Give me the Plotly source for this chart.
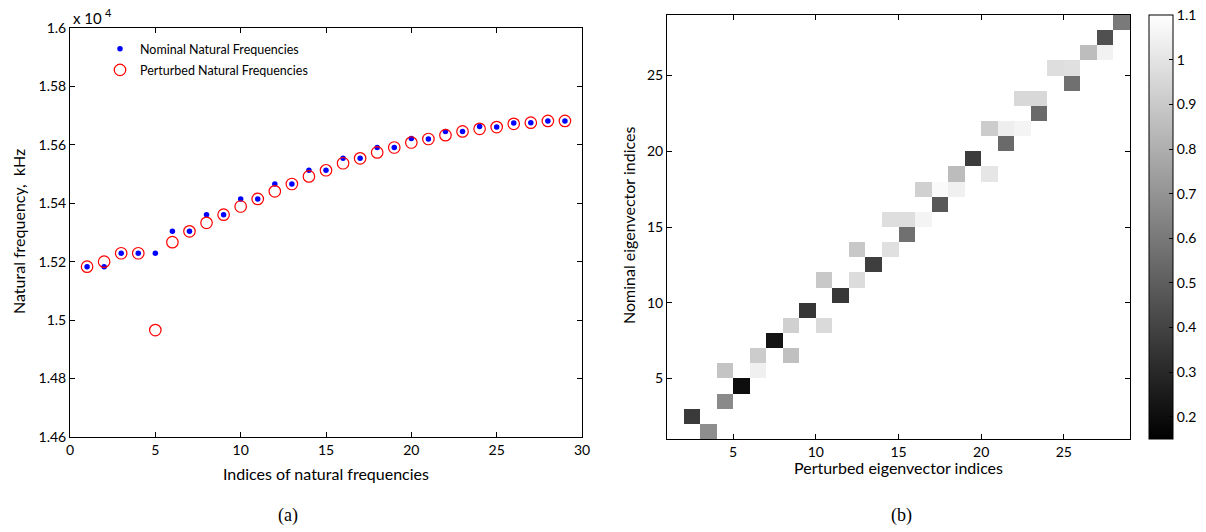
import plotly.graph_objects as go

# ---------------- data: panel (a) ----------------
mode_index = list(range(1, 30))
nominal_freq = [15183, 15183, 15229, 15229, 15229, 15304, 15304, 15361, 15361, 15415,
                15415, 15466, 15466, 15513, 15513, 15554, 15554, 15591, 15591, 15622,
                15620, 15646, 15646, 15663, 15661, 15675, 15676, 15682, 15682]
perturbed_freq = [15183, 15200, 15229, 15229, 14966, 15267, 15304, 15333, 15361, 15389,
                  15415, 15441, 15466, 15492, 15513, 15537, 15554, 15574, 15591, 15608,
                  15620, 15633, 15646, 15655, 15661, 15672, 15676, 15682, 15682]
freq_ticks = [14600, 14800, 15000, 15200, 15400, 15600, 15800, 16000]
freq_tick_labels = ["1.46", "1.48", "1.5", "1.52", "1.54", "1.56", "1.58", "1.6"]
index_ticks = [0, 5, 10, 15, 20, 25, 30]

# ---------------- data: panel (b) ----------------
perturbed_idx = [2, 3, 4, 5, 4, 6, 6, 7, 8, 8, 9, 10, 10, 11, 12, 12, 13, 14, 14, 15, 16,
                 15, 16, 17, 18, 17, 18, 19, 20, 20, 21, 22, 21, 22, 23, 23, 24, 25, 25,
                 26, 27, 27, 28]
nominal_idx = [2, 1, 3, 4, 5, 5, 6, 7, 6, 8, 9, 8, 11, 10, 11, 13, 12, 13, 15, 15, 15,
               14, 17, 17, 17, 16, 18, 19, 18, 21, 21, 21, 20, 23, 23, 22, 25, 25, 24,
               26, 26, 27, 28]
mac_value = [0.366, 0.679, 0.664, 0.202, 0.880, 1.044, 0.910, 0.225, 0.865, 0.925, 0.351,
             0.962, 0.895, 0.359, 0.970, 0.895, 0.381, 0.984, 0.977, 0.977, 1.059,
             0.567, 0.925, 1.081, 1.044, 0.478, 0.850, 0.374, 1.007, 0.910, 1.037, 1.059,
             0.545, 0.955, 0.955, 0.545, 0.977, 0.984, 0.567, 0.854, 1.052, 0.448, 0.604]
eig_ticks = [5, 10, 15, 20, 25]
cbar_ticks = [0.2, 0.3, 0.4, 0.5, 0.6, 0.7, 0.8, 0.9, 1.0, 1.1]
cbar_tick_labels = ["0.2", "0.3", "0.4", "0.5", "0.6", "0.7", "0.8", "0.9", "1", "1.1"]

n_cells = 28
cell_centres = [i + 0.5 for i in range(1, n_cells + 1)]
z = [[None] * n_cells for _ in range(n_cells)]
for px, ny, v in zip(perturbed_idx, nominal_idx, mac_value):
    z[ny - 1][px - 1] = v

# the page body margin is removed by a small post script, so the figure fills the view
W, H = 1206, 532
FONT = "Lato"


def fx(p):
    return p / W


def fy(p):
    return (H - p) / H


fig = go.Figure()

fig.add_trace(go.Scatter(
    x=mode_index, y=nominal_freq, mode="markers", name="Nominal Natural Frequencies",
    legendgroup="a", marker=dict(color="#0000ff", size=5.5, symbol="circle"),
    xaxis="x", yaxis="y"))
fig.add_trace(go.Scatter(
    x=mode_index, y=perturbed_freq, mode="markers", name="Perturbed Natural Frequencies",
    legendgroup="b",
    marker=dict(color="#ff0000", size=11.5, symbol="circle-open",
                line=dict(color="#ff0000", width=1.2)),
    xaxis="x", yaxis="y"))

fig.add_trace(go.Heatmap(
    x=cell_centres, y=cell_centres, z=z, zmin=0.15, zmax=1.1005,
    colorscale=[[0, "#000000"], [1, "#ffffff"]], hoverongaps=False,
    xaxis="x2", yaxis="y2", showlegend=False,
    colorbar=dict(x=fx(1149), xanchor="left", y=fy(439), yanchor="bottom",
                  len=(439 - 15) / H, lenmode="fraction", thickness=24,
                  thicknessmode="pixels", xpad=0, ypad=0,
                  outlinecolor="#000000", outlinewidth=1,
                  tickvals=cbar_ticks, ticktext=cbar_tick_labels, ticks="inside",
                  ticklen=4, tickcolor="#000000", ticklabeloverflow="allow",
                  tickfont=dict(family=FONT, size=14, color="#000000"))))

axis_common = dict(showline=True, linecolor="#000000", linewidth=1, mirror="ticks",
                   ticks="inside", ticklen=5, tickcolor="#000000", showgrid=False,
                   zeroline=False, automargin=False,
                   tickfont=dict(family=FONT, size=14, color="#000000"))

fig.update_layout(
    width=W, height=H, margin=dict(l=0, r=0, t=0, b=0, pad=0, autoexpand=False),
    paper_bgcolor="#ffffff", plot_bgcolor="#ffffff",
    font=dict(family=FONT, size=14, color="#000000"),
    xaxis=dict(domain=[fx(70), fx(582)], range=[0, 30], tickvals=index_ticks,
               anchor="y", **axis_common),
    yaxis=dict(domain=[fy(437), fy(28)], range=[14600, 16000], tickvals=freq_ticks,
               ticktext=freq_tick_labels, anchor="x", **axis_common),
    xaxis2=dict(domain=[fx(667), fx(1130)], range=[1, 29], tickvals=eig_ticks,
                anchor="y2", **axis_common),
    yaxis2=dict(domain=[fy(439), fy(15)], range=[1, 29], tickvals=eig_ticks,
                anchor="x2", **axis_common),
    legend=dict(x=fx(100), y=fy(34), xanchor="left", yanchor="top",
                bgcolor="rgba(0,0,0,0)", font=dict(family=FONT, size=12.5),
                tracegroupgap=2),
    showlegend=True,
)

annotations = [
    dict(text="x 10", x=fx(71), y=fy(29), xanchor="left", yanchor="bottom",
         font=dict(size=15)),
    dict(text="4", x=fx(103), y=fy(21), xanchor="left", yanchor="bottom",
         font=dict(size=11)),
    dict(text="Indices of natural frequencies", x=fx(326), y=fy(473), xanchor="center",
         yanchor="middle", font=dict(size=16)),
    dict(text="Natural frequency,  kHz", x=fx(18), y=fy(232), xanchor="center",
         yanchor="middle", textangle=-90, font=dict(size=16)),
    dict(text="Perturbed eigenvector indices", x=fx(898), y=fy(467), xanchor="center",
         yanchor="middle", font=dict(size=16)),
    dict(text="Nominal eigenvector indices", x=fx(628), y=fy(226), xanchor="center",
         yanchor="middle", textangle=-90, font=dict(size=16)),
    dict(text="(a)", x=fx(288), y=fy(515), xanchor="center", yanchor="middle",
         font=dict(family="Liberation Serif", size=18)),
    dict(text="(b)", x=fx(901), y=fy(515), xanchor="center", yanchor="middle",
         font=dict(family="Liberation Serif", size=18)),
]
for a in annotations:
    a.update(xref="paper", yref="paper", showarrow=False)
fig.update_layout(annotations=annotations)

fig.write_html("out.html",
               config={"displayModeBar": False},
               post_script="document.body.style.margin='0';"
                           "document.body.style.overflow='hidden';")
